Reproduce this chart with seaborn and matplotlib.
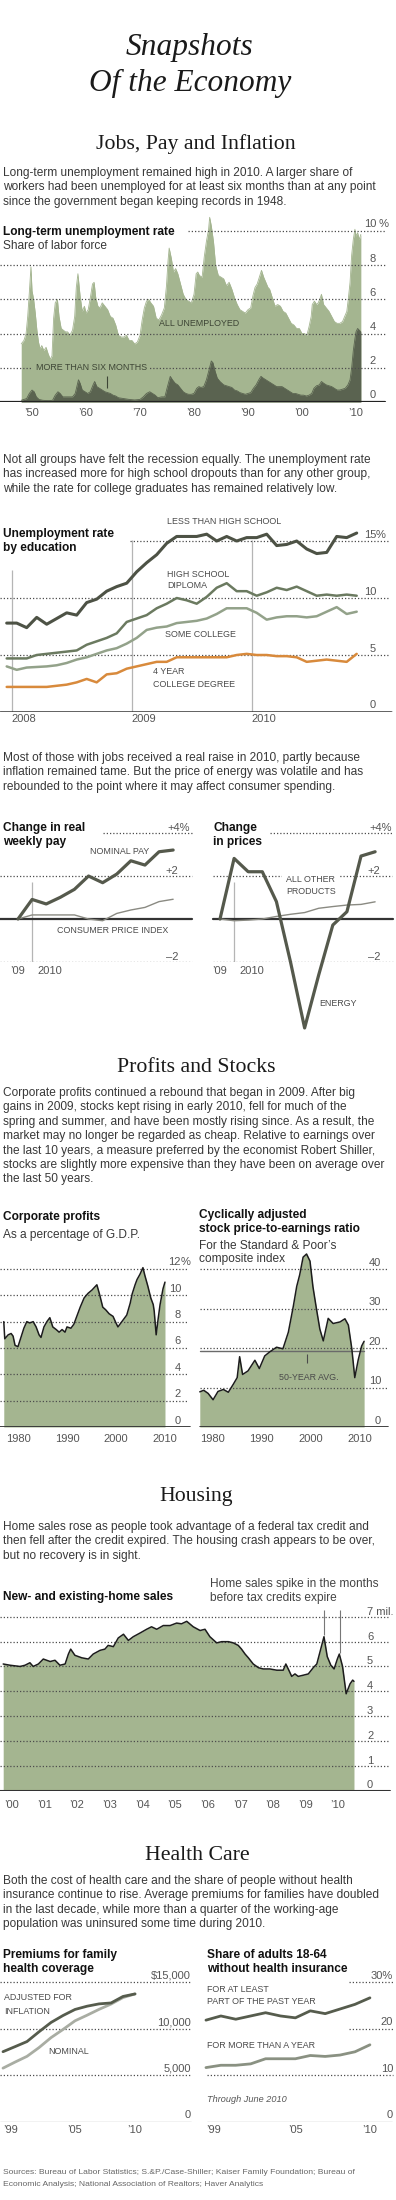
import matplotlib
matplotlib.use("Agg")
import matplotlib.pyplot as plt
import matplotlib.transforms as mtransforms
import seaborn as sns

# ---------------- data ----------------
# Long-term unemployment, share of labor force (%)
unemp_year = [1948.0, 1948.5, 1948.9, 1949.2, 1949.5, 1949.8, 1950.0, 1950.3, 1950.6, 1950.9,
              1951.2, 1951.5, 1951.8, 1952.2, 1952.6, 1953.0, 1953.4, 1953.7, 1954.0, 1954.3,
              1954.7, 1955.0, 1955.4, 1955.8, 1956.2, 1956.6, 1957.0, 1957.5, 1957.9, 1958.2,
              1958.5, 1958.9, 1959.3, 1959.7, 1960.0, 1960.4, 1960.8, 1961.2, 1961.5, 1961.8,
              1962.2, 1962.6, 1963.0, 1963.5, 1964.0, 1964.5, 1965.0, 1965.5, 1966.0, 1966.5,
              1967.0, 1967.5, 1968.0, 1968.5, 1969.0, 1969.5, 1970.0, 1970.4, 1970.8, 1971.2,
              1971.6, 1972.0, 1972.5, 1973.0, 1973.5, 1974.0, 1974.5, 1974.9, 1975.2, 1975.4,
              1975.8, 1976.2, 1976.6, 1977.0, 1977.5, 1978.0, 1978.5, 1979.0, 1979.5, 1980.0,
              1980.4, 1980.7, 1981.0, 1981.5, 1981.9, 1982.3, 1982.7, 1982.9, 1983.2, 1983.6,
              1984.0, 1984.5, 1985.0, 1985.5, 1986.0, 1986.5, 1987.0, 1987.5, 1988.0, 1988.5,
              1989.0, 1989.5, 1990.0, 1990.5, 1990.9, 1991.3, 1991.7, 1992.1, 1992.5, 1992.9,
              1993.3, 1993.7, 1994.0, 1994.5, 1995.0, 1995.5, 1996.0, 1996.5, 1997.0, 1997.5,
              1998.0, 1998.5, 1999.0, 1999.5, 2000.0, 2000.5, 2000.9, 2001.3, 2001.7, 2001.9,
              2002.3, 2002.7, 2003.0, 2003.4, 2003.6, 2004.0, 2004.5, 2005.0, 2005.5, 2006.0,
              2006.5, 2007.0, 2007.5, 2007.9, 2008.3, 2008.6, 2008.9, 2009.2, 2009.5, 2009.8,
              2010.0, 2010.3, 2010.6, 2010.9]
unemp_all = [3.4, 3.6, 4.0, 5.0, 6.4, 7.9, 6.5, 6.0, 5.2, 4.2,
             3.5, 3.1, 3.3, 3.0, 3.2, 2.8, 2.5, 2.7, 4.9, 5.8,
             6.0, 5.0, 4.3, 4.2, 4.1, 4.1, 3.9, 4.2, 5.0, 6.7,
             7.5, 6.2, 5.3, 5.6, 5.2, 5.4, 6.1, 6.9, 7.0, 6.1,
             5.6, 5.5, 5.8, 5.6, 5.4, 5.0, 4.9, 4.5, 3.9, 3.8,
             3.8, 3.9, 3.6, 3.6, 3.4, 3.5, 3.9, 4.8, 5.5, 5.9,
             6.0, 5.8, 5.6, 4.9, 4.8, 5.1, 5.5, 6.8, 8.3, 9.0,
             8.4, 7.6, 7.8, 7.5, 6.9, 6.3, 6.0, 5.9, 5.8, 6.3,
             7.5, 7.6, 7.4, 7.3, 8.5, 9.4, 10.1, 10.8, 10.3, 9.4,
             8.0, 7.4, 7.3, 7.2, 6.8, 7.0, 6.6, 6.1, 5.7, 5.4,
             5.3, 5.2, 5.4, 5.5, 6.2, 6.7, 6.9, 7.3, 7.7, 7.3,
             7.0, 6.7, 6.6, 6.1, 5.6, 5.7, 5.6, 5.3, 5.2, 4.9,
             4.6, 4.5, 4.3, 4.3, 4.0, 4.0, 3.9, 4.4, 5.0, 5.7,
             5.9, 5.7, 5.8, 6.1, 6.3, 5.7, 5.5, 5.3, 5.0, 4.7,
             4.6, 4.6, 4.7, 5.0, 5.3, 6.1, 7.0, 8.6, 9.5, 10.1,
             9.7, 9.9, 9.5, 9.8]
longterm_year = [1948.0, 1948.5, 1949.0, 1949.5, 1950.0, 1950.4, 1950.8, 1951.3, 1952.0, 1953.0,
                 1953.8, 1954.3, 1954.8, 1955.2, 1955.7, 1956.5, 1957.5, 1958.0, 1958.6, 1958.9,
                 1959.3, 1959.8, 1960.3, 1960.8, 1961.3, 1961.6, 1962.0, 1962.5, 1963.0, 1963.5,
                 1964.5, 1965.0, 1965.5, 1966.0, 1967.0, 1968.0, 1969.0, 1970.0, 1970.6, 1971.2,
                 1971.8, 1972.3, 1972.8, 1973.3, 1974.0, 1974.6, 1975.0, 1975.6, 1976.0, 1976.5,
                 1977.0, 1977.5, 1978.0, 1978.5, 1979.0, 1979.5, 1980.0, 1980.5, 1980.9, 1981.3,
                 1981.8, 1982.3, 1982.8, 1983.2, 1983.5, 1983.9, 1984.3, 1984.8, 1985.5, 1986.0,
                 1986.5, 1987.0, 1987.5, 1988.0, 1988.5, 1989.0, 1989.5, 1990.0, 1990.5, 1991.0,
                 1991.5, 1992.0, 1992.4, 1992.8, 1993.3, 1993.8, 1994.3, 1994.8, 1995.3, 1995.8,
                 1996.3, 1996.8, 1997.3, 1997.8, 1998.3, 1998.8, 1999.3, 1999.8, 2000.3, 2000.8,
                 2001.3, 2001.8, 2002.2, 2002.7, 2003.2, 2003.6, 2004.0, 2004.5, 2005.0, 2005.5,
                 2006.0, 2006.5, 2007.0, 2007.5, 2008.0, 2008.5, 2008.9, 2009.2, 2009.5, 2009.8,
                 2010.0, 2010.3, 2010.6, 2010.9]
longterm_rate = [0.1, 0.15, 0.2, 0.5, 0.7, 0.6, 0.3, 0.15, 0.1, 0.08,
                 0.1, 0.4, 0.6, 0.5, 0.3, 0.3, 0.3, 0.5, 1.3, 1.1,
                 0.7, 0.6, 0.5, 0.6, 1.0, 1.2, 0.9, 0.8, 0.7, 0.6,
                 0.5, 0.4, 0.35, 0.25, 0.2, 0.15, 0.12, 0.15, 0.3, 0.5,
                 0.6, 0.5, 0.4, 0.25, 0.3, 0.3, 0.8, 1.5, 1.3, 1.1,
                 1.0, 0.8, 0.6, 0.5, 0.45, 0.45, 0.5, 0.8, 0.9, 0.85,
                 0.9, 1.3, 1.9, 2.4, 2.3, 1.8, 1.4, 1.2, 1.0, 0.95,
                 0.9, 0.85, 0.7, 0.65, 0.55, 0.5, 0.45, 0.5, 0.55, 0.8,
                 1.0, 1.3, 1.5, 1.4, 1.3, 1.2, 1.1, 1.0, 0.9, 0.9,
                 0.9, 0.8, 0.7, 0.6, 0.5, 0.5, 0.45, 0.4, 0.4, 0.35,
                 0.4, 0.5, 0.8, 0.95, 1.0, 1.2, 1.1, 1.0, 0.95, 0.9,
                 0.8, 0.7, 0.7, 0.75, 0.8, 1.0, 1.3, 2.0, 3.0, 3.7,
                 4.1, 4.3, 4.2, 4.1]

# Unemployment rate by education, monthly Dec 2007 - Nov 2010 (x = months since Jan 1 2008)
edu_month = [m - 0.5 for m in range(36)]
edu_less_hs = [7.8, 7.8, 7.4, 8.3, 7.7, 8.2, 8.7, 8.5, 9.6, 9.9,
               10.6, 11.0, 11.3, 12.3, 13.1, 13.8, 14.8, 15.4, 15.4, 15.4,
               15.6, 15.0, 15.4, 15.0, 15.3, 15.3, 15.6, 14.6, 14.7, 15.0,
               14.3, 13.9, 14.0, 15.4, 15.3, 15.7]
edu_hs = [4.7, 4.7, 4.7, 5.0, 5.1, 5.2, 5.3, 5.4, 5.9, 6.2,
          6.5, 6.9, 7.9, 8.2, 8.5, 9.1, 9.5, 10.0, 9.8, 9.5,
          10.1, 10.9, 11.3, 10.6, 10.6, 10.2, 10.5, 10.9, 10.7, 11.0,
          10.6, 10.2, 10.3, 10.2, 10.3, 10.2]
edu_some_college = [4.0, 3.7, 3.9, 3.95, 4.0, 4.1, 4.3, 4.6, 4.8, 5.1,
                    5.4, 5.6, 6.0, 6.5, 7.2, 7.4, 7.5, 7.8, 7.9, 8.0,
                    8.2, 8.6, 9.1, 9.1, 9.1, 8.7, 8.1, 8.3, 8.4, 8.4,
                    8.3, 8.4, 8.8, 9.2, 8.6, 8.8]
edu_college = [2.2, 2.2, 2.2, 2.2, 2.2, 2.3, 2.4, 2.6, 2.9, 2.6,
               3.3, 3.4, 3.8, 4.0, 4.2, 4.4, 4.4, 4.8, 4.8, 4.8,
               4.8, 4.8, 4.8, 5.0, 5.1, 5.0, 5.0, 4.9, 4.9, 4.8,
               4.4, 4.5, 4.6, 4.5, 4.4, 5.1]

# Change since Dec 2009 (%), monthly, x = months after Dec 2009
chg_month = list(range(12))
pay_nominal = [0, 0.91, 0.70, 1.01, 1.38, 2.0, 1.69, 2.09, 2.71, 2.51, 3.13, 3.21]
pay_cpi = [0, 0.19, 0.19, 0.19, 0.19, 0.0, -0.08, 0.26, 0.42, 0.54, 0.81, 0.92]
price_energy = [0, 2.82, 2.2, 2.2, 0.81, -2.0, -5.07, -2.6, -0.28, 0.34, 2.93, 3.13]
price_other = [0, -0.08, -0.05, 0.0, 0.12, 0.22, 0.3, 0.5, 0.58, 0.65, 0.68, 0.8]

# Corporate profits, % of G.D.P.
profit_year = [1977.1, 1977.3, 1978.0, 1978.6, 1979.0, 1979.4, 1980.0, 1980.6, 1981.2, 1981.8,
               1982.4, 1983.1, 1983.7, 1984.3, 1984.7, 1985.3, 1985.9, 1986.5, 1987.1, 1987.8,
               1988.4, 1989.0, 1989.6, 1990.0, 1990.8, 1991.4, 1992.0, 1992.7, 1993.5, 1994.3,
               1995.1, 1996.1, 1996.7, 1997.3, 1997.9, 1998.6, 1999.4, 2000.0, 2000.4, 2001.0,
               2001.8, 2002.2, 2002.9, 2003.3, 2003.9, 2004.3, 2004.9, 2005.5, 2005.9, 2006.5,
               2007.1, 2007.6, 2007.8, 2008.2, 2008.6, 2009.0, 2009.6, 2010.0]
profit_share = [8.0, 6.7, 7.0, 7.1, 6.9, 6.2, 6.1, 6.8, 7.5, 8.0,
                7.9, 8.0, 7.6, 7.0, 6.8, 7.6, 8.0, 8.3, 7.6, 7.4,
                7.2, 7.4, 7.2, 7.6, 7.5, 7.8, 8.4, 9.1, 9.8, 10.15,
                10.4, 10.8, 10.0, 9.1, 8.9, 8.6, 8.4, 7.9, 7.6, 7.9,
                8.3, 8.5, 9.4, 10.1, 10.8, 11.2, 11.6, 12.1, 11.5, 10.7,
                9.8, 9.3, 8.8, 7.0, 8.2, 9.3, 10.5, 11.0]

# Cyclically adjusted P/E ratio, S.&P. composite
cape_year = [1977.4, 1978.2, 1979.1, 1980.1, 1981.1, 1982.2, 1983.2, 1984.2, 1985.0, 1985.5,
             1986.1, 1987.2, 1988.6, 1989.5, 1990.6, 1991.6, 1993.0, 1994.3, 1995.4, 1996.4,
             1997.1, 1997.7, 1998.4, 1999.1, 1999.8, 2000.4, 2001.1, 2001.8, 2002.5, 2003.5,
             2004.5, 2005.9, 2006.9, 2007.6, 2008.3, 2008.9, 2009.6, 2010.3, 2010.8]
cape_ratio = [8.9, 9.3, 8.5, 6.9, 9.0, 9.5, 8.8, 10.8, 12.5, 17.8,
              13.3, 14.2, 16.9, 14.8, 18.0, 19.0, 20.2, 19.8, 24.0, 30.5,
              35.6, 38.5, 43.0, 43.8, 42.0, 35.5, 30.0, 24.8, 21.8, 27.5,
              26.2, 26.6, 27.4, 25.8, 19.8, 12.5, 17.0, 20.5, 21.7]
cape_avg = 19.2

# New- and existing-home sales (millions, annual rate)
home_year = [1999.73, 1999.94, 2000.25, 2000.40, 2000.55, 2000.65, 2000.81, 2000.96, 2001.17, 2001.32,
             2001.47, 2001.63, 2001.73, 2001.80, 2001.93, 2002.14, 2002.34, 2002.49, 2002.70, 2002.85,
             2002.95, 2003.11, 2003.26, 2003.42, 2003.57, 2003.72, 2003.93, 2004.13, 2004.28, 2004.44,
             2004.64, 2004.85, 2005.05, 2005.20, 2005.36, 2005.56, 2005.77, 2005.92, 2006.07, 2006.28,
             2006.43, 2006.64, 2006.79, 2006.94, 2007.04, 2007.15, 2007.25, 2007.40, 2007.56, 2007.71,
             2007.91, 2008.12, 2008.32, 2008.40, 2008.51, 2008.58, 2008.68, 2008.78, 2008.94, 2009.09,
             2009.24, 2009.35, 2009.45, 2009.57, 2009.67, 2009.78, 2009.88, 2009.98, 2010.04, 2010.14,
             2010.25, 2010.37, 2010.45, 2010.49]
home_sales = [5.1, 5.05, 5.0, 5.05, 5.15, 5.0, 5.1, 5.3, 5.2, 5.25,
              5.05, 5.1, 5.5, 5.7, 5.45, 5.35, 5.3, 5.5, 5.65, 5.7,
              5.85, 5.8, 6.15, 6.3, 6.05, 6.2, 6.35, 6.5, 6.6, 6.5,
              6.65, 6.65, 6.75, 6.72, 6.82, 6.6, 6.45, 6.5, 6.2, 5.95,
              6.0, 6.0, 5.95, 5.85, 5.7, 5.5, 5.35, 5.1, 4.95, 4.9,
              4.9, 4.85, 4.85, 5.1, 4.8, 4.6, 4.7, 4.6, 4.65, 4.7,
              4.95, 5.1, 5.6, 6.2, 5.4, 5.05, 4.9, 5.3, 5.5, 5.0,
              3.9, 4.3, 4.45, 4.4]
credit_expiry = [2009.57, 2010.06]

# Health care
health_year = [1999, 2000, 2001, 2002, 2003, 2004, 2005, 2006, 2007, 2008, 2009, 2010]
premium_adjusted = [7560, 8100, 8650, 9700, 10700, 11450, 12100, 12450, 12700, 12800, 13500, 13770]
premium_nominal = [5790, 6440, 7060, 8000, 9070, 9950, 10880, 11480, 12110, 12680, 13380, 13770]
uninsured_part_year = [21.9, 22.8, 22.1, 22.8, 23.5, 22.8, 22.4, 23.9, 23.3, 24.3, 25.3, 26.7]
uninsured_over_year = [11.7, 12.2, 12.2, 12.5, 13.6, 13.6, 13.6, 14.3, 14.1, 14.4, 15.1, 16.6]

# ---------------- style ----------------
sns.set_theme(style="white")
plt.rcParams["font.family"] = ["Liberation Sans", "DejaVu Sans"]
SERIF = ["Liberation Serif", "DejaVu Serif"]

W, H = 396, 2200
TXT = "#383838"
LAB = "#555555"
GREEN = "#a4b590"
DARKG = "#5a6350"
DOT = (0, (1, 1.6))
BODY = 8.6

fig = plt.figure(figsize=(W / 100, H / 100), dpi=100)
fig.patch.set_facecolor("white")
span = {}


def text(x, y, s, size=BODY, **kw):
    kw.setdefault("color", TXT)
    kw.setdefault("va", "center")
    fig.text(x / W, 1 - y / H, s, fontsize=size, **kw)


def para(lines, y0, step=14.4, size=BODY):
    for k, line in enumerate(lines):
        text(3, y0 + k * step, line, size=size)


def label(x, y, s, size=6.4, color="#4a4a4a", **kw):
    text(x, y, s, size=size, color=color, **kw)


def new_ax(left, top, right, bottom):
    ax = fig.add_axes([left / W, 1 - bottom / H, (right - left) / W, (bottom - top) / H])
    span[ax] = (left, right)
    return ax


def finish(ax, xlim, ylim, xticks=None, xlabels=None, pad=4):
    ax.set_xlim(xlim)
    ax.set_ylim(ylim)
    ax.set_xlabel("")
    ax.set_ylabel("")
    for sp in ax.spines.values():
        sp.set_visible(False)
    ax.set_yticks([])
    ax.patch.set_alpha(0)
    ax.grid(False)
    if xticks is None:
        ax.set_xticks([])
    else:
        ax.set_xticks(xticks, xlabels)
        ax.tick_params(axis="x", length=0, pad=pad, labelsize=8, labelcolor=LAB)


def hline(ax, v, x0, x1, solid=False, color="#4d4d4d", lw=0.9, z=3):
    l, r = span[ax]
    ax.axhline(v, xmin=(x0 - l) / (r - l), xmax=(x1 - l) / (r - l), color=color, lw=lw,
               ls="-" if solid else DOT, zorder=z)


def vlab(ax, v, s, x, ha="right", dy=1.5, size=8):
    tr = mtransforms.blended_transform_factory(fig.transFigure, ax.transData)
    tr = tr + mtransforms.ScaledTranslation(0, dy / 100, fig.dpi_scale_trans)
    ax.text(x / W, v, s, transform=tr, ha=ha, va="bottom", fontsize=size, color=LAB)


def shift_tick(ax, idx, ha, dx=0):
    lab = ax.get_xticklabels()[idx]
    lab.set_ha(ha)
    if dx:
        lab.set_transform(lab.get_transform() + mtransforms.ScaledTranslation(dx / 100, 0, fig.dpi_scale_trans))


# ---------------- headings & text ----------------
text(190, 47, "Snapshots", size=22.6, family=SERIF, style="italic", ha="center", color="#1a1a1a")
text(190, 83, "Of the Economy", size=22.6, family=SERIF, style="italic", ha="center", color="#1a1a1a")

text(196, 144, "Jobs, Pay and Inflation", size=15.7, family=SERIF, ha="center", color="#1a1a1a")
para(["Long-term unemployment remained high in 2010. A larger share of",
      "workers had been unemployed for at least six months than at any point",
      "since the government began keeping records in 1948."], 173)

# ---------------- chart 1: long-term unemployment ----------------
text(3, 232, "Long-term unemployment rate", size=8.6, weight="bold", color="#111111")
text(3, 246, "Share of labor force", size=8.6)
ax1 = new_ax(0, 205, 396, 402)
ax1.fill_between(unemp_year, unemp_all, 0, color=GREEN, lw=0, zorder=1)
ax1.fill_between(longterm_year, longterm_rate, 0, color=DARKG, lw=0, zorder=2)
sns.lineplot(x=unemp_year, y=unemp_all, ax=ax1, color=GREEN, lw=0.6, zorder=1)
sns.lineplot(x=longterm_year, y=longterm_rate, ax=ax1, color=DARKG, lw=0.6, zorder=2)
finish(ax1, (1944.07, 2017.41), (0, 11.52), [1950, 1960, 1970, 1980, 1990, 2000, 2010],
       ["\u201950", "\u201960", "\u201970", "\u201980", "\u201990", "\u201900", "\u201910"], pad=4.5)
hline(ax1, 10, 188, 385)
for v in (8, 6, 4, 2):
    hline(ax1, v, 0, 385)
hline(ax1, 0, 0, 385, solid=True, color="#222222", lw=1.6, z=4)
vlab(ax1, 10, "10", 376)
vlab(ax1, 10, " %", 376, ha="left")
for v in (8, 6, 4, 2, 0):
    vlab(ax1, v, str(v), 376)
ax1.vlines(1963.8, 0.82, 1.52, color="#3d4535", lw=0.8, zorder=5)
label(159, 323, "ALL UNEMPLOYED", color="#3d4535")
label(36, 368, "MORE THAN SIX MONTHS", color="#3d4535",
      bbox=dict(boxstyle="square,pad=0.35", fc=GREEN, ec="none"), zorder=6)

# ---------------- chart 2: unemployment by education ----------------
para(["Not all groups have felt the recession equally. The unemployment rate",
      "has increased more for high school dropouts than for any other group,",
      "while the rate for college graduates has remained relatively low."], 460)
text(3, 534, "Unemployment rate", size=8.6, weight="bold", color="#111111")
text(3, 548, "by education", size=8.6, weight="bold", color="#111111")
ax2 = new_ax(0, 505, 396, 712)
ax2.vlines(0, 0, 12.46, color="#b5b5b5", lw=0.9, zorder=1)
ax2.vlines([12, 24], 0, 15.1, color="#b5b5b5", lw=0.9, zorder=1)
sns.lineplot(x=edu_month, y=edu_college, ax=ax2, color="#d88a3c", lw=1.8, zorder=4)
sns.lineplot(x=edu_month, y=edu_some_college, ax=ax2, color="#93a28a", lw=1.8, zorder=4)
sns.lineplot(x=edu_month, y=edu_hs, ax=ax2, color="#6b7a60", lw=1.8, zorder=4)
sns.lineplot(x=edu_month, y=edu_less_hs, ax=ax2, color="#4d5245", lw=2.2, zorder=5)
finish(ax2, (-1.17, 38.43), (0, 18.16), [0, 12, 24], ["2008", "2009", "2010"], pad=1.5)
for i in range(3):
    shift_tick(ax2, i, "left")
hline(ax2, 15, 130, 390)
hline(ax2, 10, 0, 390)
hline(ax2, 5, 0, 390)
hline(ax2, 0, 0, 391, solid=True, color="#333333", lw=1.8, z=6)
vlab(ax2, 15, "15", 376)
vlab(ax2, 15, "%", 376, ha="left")
for v in (10, 5, 0):
    vlab(ax2, v, str(v), 376)
label(167, 521, "LESS THAN HIGH SCHOOL")
label(167, 574, "HIGH SCHOOL")
label(167, 586, "DIPLOMA")
label(165, 635, "SOME COLLEGE")
label(153, 672, "4 YEAR")
label(153, 685, "COLLEGE DEGREE")

# ---------------- chart 3: pay and prices ----------------
para(["Most of those with jobs received a real raise in 2010, partly because",
      "inflation remained tame. But the price of energy was volatile and has",
      "rebounded to the point where it may affect consumer spending."], 758)

text(3, 828, "Change in real", size=8.6, weight="bold", color="#111111")
text(3, 842, "weekly pay", size=8.6, weight="bold", color="#111111")
ax3 = new_ax(0, 815, 196, 962)
ax3.vlines(1, -2, 1.72, color="#b5b5b5", lw=0.9, zorder=1)
sns.lineplot(x=chg_month, y=pay_cpi, ax=ax3, color="#8a8a82", lw=1.0, zorder=4)
sns.lineplot(x=chg_month, y=pay_nominal, ax=ax3, color="#55594c", lw=2.3, zorder=5)
finish(ax3, (-1.277, 12.62), (-2, 4.84), [0, 1], ["\u201909", "2010"], pad=3)
shift_tick(ax3, 1, "left", 5)
hline(ax3, 4, 103, 192)
hline(ax3, 2, 0, 192)
hline(ax3, -2, 0, 192)
hline(ax3, 0, 0, 192, solid=True, color="#333333", lw=1.6, z=3.5)
vlab(ax3, 4, "+4%", 190, dy=0.5)
vlab(ax3, 2, "+2", 178, dy=0.5)
vlab(ax3, -2, "\u20132", 178, dy=0.5)
label(90, 851, "NOMINAL PAY")
label(57, 931, "CONSUMER PRICE INDEX")

text(213, 828, "Change", size=8.6, weight="bold", color="#111111")
text(213, 842, "in prices", size=8.6, weight="bold", color="#111111")
ax4 = new_ax(200, 815, 396, 962)
ax4.vlines(1, -2, 1.72, color="#b5b5b5", lw=0.9, zorder=1)
sns.lineplot(x=chg_month, y=price_other, ax=ax4, color="#8a8a82", lw=1.0, zorder=4)
sns.lineplot(x=chg_month, y=price_energy, ax=ax4, color="#55594c", lw=2.3, zorder=5)
for ln in ax4.lines:
    ln.set_clip_on(False)
finish(ax4, (-1.418, 12.48), (-2, 4.84), [0, 1], ["\u201909", "2010"], pad=3)
shift_tick(ax4, 1, "left", 5)
hline(ax4, 4, 270, 392)
hline(ax4, 2, 213, 392)
hline(ax4, -2, 213, 393)
hline(ax4, 0, 213, 393, solid=True, color="#333333", lw=1.6, z=3.5)
vlab(ax4, 4, "+4%", 392, dy=0.5)
vlab(ax4, 2, "+2", 380, dy=0.5)
vlab(ax4, -2, "\u20132", 380, dy=0.5)
label(286, 879, "ALL OTHER", bbox=dict(boxstyle="square,pad=0.5", fc="white", ec="none"))
label(286, 891, "PRODUCTS")
label(319, 1003, "ENERGY")

# ---------------- profits and stocks ----------------
text(196, 1067, "Profits and Stocks", size=15.7, family=SERIF, ha="center", color="#1a1a1a")
para(["Corporate profits continued a rebound that began in 2009. After big",
      "gains in 2009, stocks kept rising in early 2010, fell for much of the",
      "spring and summer, and have been mostly rising since. As a result, the",
      "market may no longer be regarded as cheap. Relative to earnings over",
      "the last 10 years, a measure preferred by the economist Robert Shiller,",
      "stocks are slightly more expensive than they have been on average over",
      "the last 50 years."], 1093)

text(3, 1217, "Corporate profits", size=8.6, weight="bold", color="#111111")
text(3, 1235, "As a percentage of G.D.P.", size=8.6)
ax5 = new_ax(0, 1245, 196, 1427)
ax5.fill_between(profit_year, profit_share, 0, color=GREEN, lw=0, zorder=1)
sns.lineplot(x=profit_year, y=profit_share, ax=ax5, color="#1c1c1c", lw=1.1, zorder=4)
finish(ax5, (1976.33, 2016.33), (0, 13.82), [1980, 1990, 2000, 2010],
       ["1980", "1990", "2000", "2010"], pad=5.2)
for v in (12, 10, 8, 6, 4, 2):
    hline(ax5, v, 0, 188)
hline(ax5, 0, 0, 190, solid=True, color="#333333", lw=1.3, z=5)
vlab(ax5, 12, "12", 181)
vlab(ax5, 12, "%", 181, ha="left")
for v in (10, 8, 6, 4, 2, 0):
    vlab(ax5, v, str(v), 181)

text(199, 1215, "Cyclically adjusted", size=8.6, weight="bold", color="#111111")
text(199, 1229, "stock price-to-earnings ratio", size=8.6, weight="bold", color="#111111")
text(199, 1246, "For the Standard & Poor\u2019s", size=8.6)
text(199, 1259, "composite index", size=8.6)
ax6 = new_ax(196, 1245, 396, 1427)
ax6.fill_between(cape_year, cape_ratio, 0, color=GREEN, lw=0, zorder=1)
sns.lineplot(x=cape_year, y=cape_ratio, ax=ax6, color="#1c1c1c", lw=1.1, zorder=4)
finish(ax6, (1976.63, 2017.28), (0, 46.08), [1980, 1990, 2000, 2010],
       ["1980", "1990", "2000", "2010"], pad=5.2)
for v in (40, 30, 20, 10):
    hline(ax6, v, 200, 388)
hline(ax6, 0, 200, 388, solid=True, color="#333333", lw=1.3, z=5)
hline(ax6, cape_avg, 200, 364, solid=True, color="#6a6a6a", lw=1.0, z=3)
for v in (40, 30, 20, 10, 0):
    vlab(ax6, v, str(v), 381)
ax6.vlines(1999.2, 16.2, 18.5, color="#4a4a4a", lw=0.8, zorder=5)
label(279, 1377, "50-YEAR AVG.")

# ---------------- housing ----------------
text(196, 1497, "Housing", size=15.7, family=SERIF, ha="center", color="#1a1a1a")
para(["Home sales rose as people took advantage of a federal tax credit and",
      "then fell after the credit expired. The housing crash appears to be over,",
      "but no recovery is in sight."], 1527)
text(3, 1597, "New- and existing-home sales", size=8.6, weight="bold", color="#111111")
text(210, 1584, "Home sales spike in the months", size=8.6, color="#444444")
text(210, 1598, "before tax credits expire", size=8.6, color="#444444")
ax7 = new_ax(0, 1600, 396, 1790.5)
ax7.fill_between(home_year, home_sales, 0, color=GREEN, lw=0, zorder=1)
sns.lineplot(x=home_year, y=home_sales, ax=ax7, color="#1c1c1c", lw=1.1, zorder=4)
finish(ax7, (1999.632, 2011.779), (0, 7.68), list(range(2000, 2011)),
       ["\u2019%02d" % (y % 100) for y in range(2000, 2011)], pad=6.5)
for v in (7, 6, 5, 4, 3, 2, 1):
    hline(ax7, v, 0, 390)
hline(ax7, 0, 0, 390, solid=True, color="#333333", lw=1.5, z=5)
ax7.vlines(credit_expiry[0], 6.27, 7.29, color="#777777", lw=0.8, zorder=5)
ax7.vlines(credit_expiry[1], 5.54, 7.29, color="#777777", lw=0.8, zorder=5)
vlab(ax7, 7, "7 mil.", 367, ha="left", dy=0)
for v in (6, 5, 4, 3, 2, 1, 0):
    vlab(ax7, v, str(v), 367, ha="left", dy=0)

# ---------------- health care ----------------
text(197, 1855, "Health Care", size=15.7, family=SERIF, ha="center", color="#1a1a1a")
para(["Both the cost of health care and the share of people without health",
      "insurance continue to rise. Average premiums for families have doubled",
      "in the last decade, while more than a quarter of the working-age",
      "population was uninsured some time during 2010."], 1881)

text(3, 1955, "Premiums for family", size=8.6, weight="bold", color="#111111")
text(3, 1969, "health coverage", size=8.6, weight="bold", color="#111111")
ax8 = new_ax(0, 1975, 196, 2122)
sns.lineplot(x=health_year, y=premium_nominal, ax=ax8, color="#a9ada3", lw=2.0, zorder=4)
sns.lineplot(x=health_year, y=premium_adjusted, ax=ax8, color="#565c4d", lw=2.0, zorder=5)
finish(ax8, (1998.75, 2015.08), (0, 15806), [1999, 2005, 2010], ["\u201999", "\u201905", "\u201910"], pad=2.5)
shift_tick(ax8, 0, "left")
for v in (15000, 10000, 5000):
    hline(ax8, v, 0, 191)
hline(ax8, 0, 0, 191, solid=True, color="#9a9a9a", lw=0.9)
vlab(ax8, 15000, "$15,000", 191)
vlab(ax8, 10000, "10,000", 191)
vlab(ax8, 5000, "5,000", 191)
vlab(ax8, 0, "0", 191)
label(4, 1997, "ADJUSTED FOR")
label(4, 2011, "INFLATION")
label(48, 2051, "NOMINAL")

text(207, 1955, "Share of adults 18-64", size=8.6, weight="bold", color="#111111")
text(207, 1969, "without health insurance", size=8.6, weight="bold", color="#111111")
ax9 = new_ax(200, 1975, 396, 2122)
sns.lineplot(x=health_year, y=uninsured_over_year, ax=ax9, color="#8a9182", lw=2.0, zorder=4)
sns.lineplot(x=health_year, y=uninsured_part_year, ax=ax9, color="#565c4d", lw=2.0, zorder=5)
finish(ax9, (1998.6, 2011.75), (0, 31.61), [1999, 2005, 2010], ["\u201999", "\u201905", "\u201910"], pad=2.5)
shift_tick(ax9, 0, "left")
hline(ax9, 30, 349, 393)
hline(ax9, 20, 349, 393)
hline(ax9, 10, 207, 393)
hline(ax9, 0, 207, 392, solid=True, color="#9a9a9a", lw=0.9)
vlab(ax9, 30, "30%", 393)
for v in (20, 10, 0):
    vlab(ax9, v, str(v), 393)
label(207, 1989, "FOR AT LEAST")
label(207, 2002, "PART OF THE PAST YEAR")
label(207, 2045, "FOR MORE THAN A YEAR")
text(207, 2099, "Through June 2010", size=6.6, style="italic", color="#555555")

# ---------------- sources ----------------
text(3, 2172, "Sources: Bureau of Labor Statistics; S.&P./Case-Shiller; Kaiser Family Foundation; Bureau of",
     size=6.1, color="#666666")
text(3, 2184, "Economic Analysis; National Association of Realtors; Haver Analytics", size=6.1, color="#666666")

fig.savefig("out.png", dpi=100, facecolor="white")
